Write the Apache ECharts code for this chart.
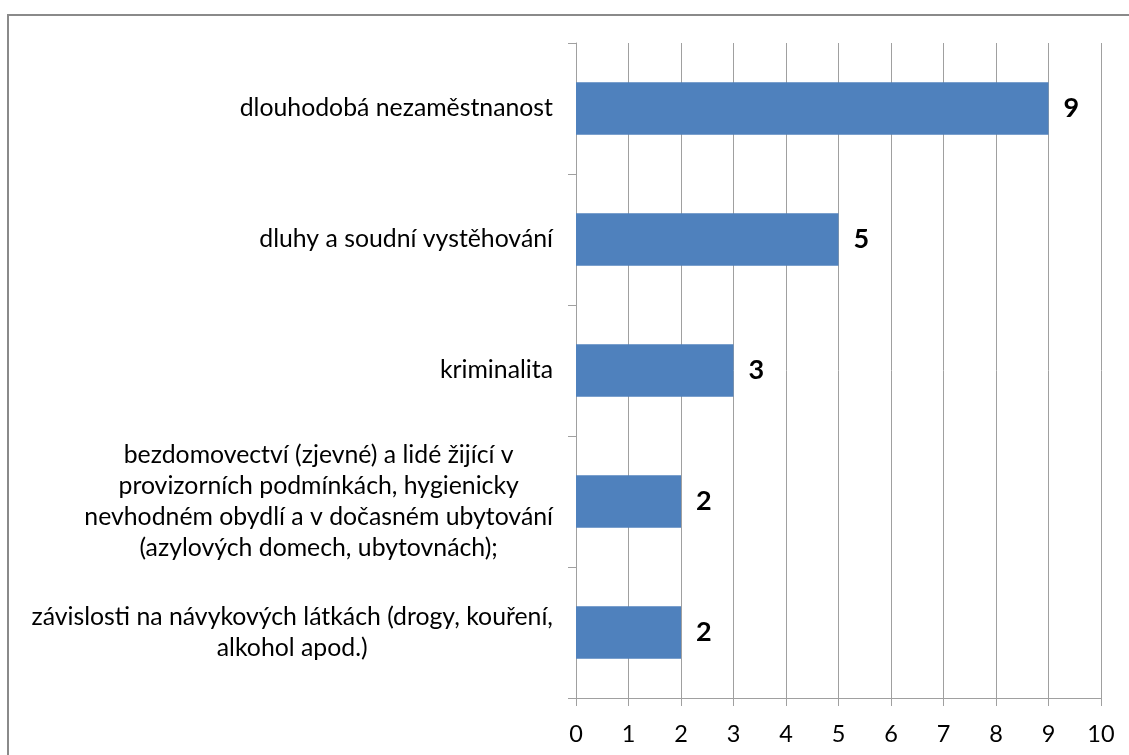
<!DOCTYPE html>
<html>
<head>
<meta charset="utf-8">
<style>html,body{margin:0;padding:0;background:#fff;}#c{width:1129px;height:755px;}</style>
<script src="https://cdn.jsdelivr.net/npm/echarts@6/dist/echarts.min.js"></script>
</head>
<body>
<div id="c"></div>
<script>
const categories = [
  'dlouhodobá nezaměstnanost',
  'dluhy a soudní vystěhování',
  'kriminalita',
  'bezdomovectví (zjevné) a lidé žijící v\nprovizorních podmínkách, hygienicky\nnevhodném obydlí a v dočasném ubytování\n(azylových domech, ubytovnách);',
  'závislosti na návykových látkách (drogy, kouření,\nalkohol apod.)'
];
const values = [9, 5, 3, 2, 2];
const xTicks = [0, 1, 2, 3, 4, 5, 6, 7, 8, 9, 10];

const FONT = 'Lato';
const FS = 24.8;
const chart = echarts.init(document.getElementById('c'), null, {renderer: 'canvas'});
chart.setOption({
  animation: false,
  backgroundColor: '#fff',
  graphic: [{
    type: 'rect', silent: true, z: -1,
    shape: {x: 8, y: 15, width: 1300, height: 1000},
    style: {fill: 'none', stroke: '#8a8a8a', lineWidth: 2}
  }],
  grid: {left: 576, right: 28, top: 43, bottom: 57, containLabel: false},
  xAxis: {
    type: 'value', min: xTicks[0], max: xTicks[xTicks.length - 1], interval: 1,
    axisLine: {show: true, lineStyle: {color: '#a0a0a0', width: 1}},
    axisTick: {show: true, length: 8, lineStyle: {color: '#a0a0a0'}},
    splitLine: {show: true, lineStyle: {color: '#a0a0a0', width: 1}},
    axisLabel: {color: '#000', fontFamily: FONT, fontSize: 23.5, margin: 24}
  },
  yAxis: {
    type: 'category', data: categories, inverse: true,
    axisLine: {show: true, lineStyle: {color: '#a0a0a0', width: 1}},
    axisTick: {show: true, length: 8, lineStyle: {color: '#a0a0a0'}},
    splitLine: {show: false},
    axisLabel: {
      color: '#000', fontFamily: FONT, fontSize: FS, margin: 23, lineHeight: 31,
      formatter: v => '{c|' + v + '}',
      rich: {c: {align: 'center', fontFamily: FONT, fontSize: FS, lineHeight: 31, color: '#000'}}
    }
  },
  series: [{
    type: 'bar', data: values, barWidth: '40%',
    itemStyle: {color: '#4F81BD'},
    label: {show: true, position: 'right', distance: 15, color: '#000', fontFamily: FONT, fontWeight: 'bold', fontSize: 27}
  }]
});
</script>
</body>
</html>
